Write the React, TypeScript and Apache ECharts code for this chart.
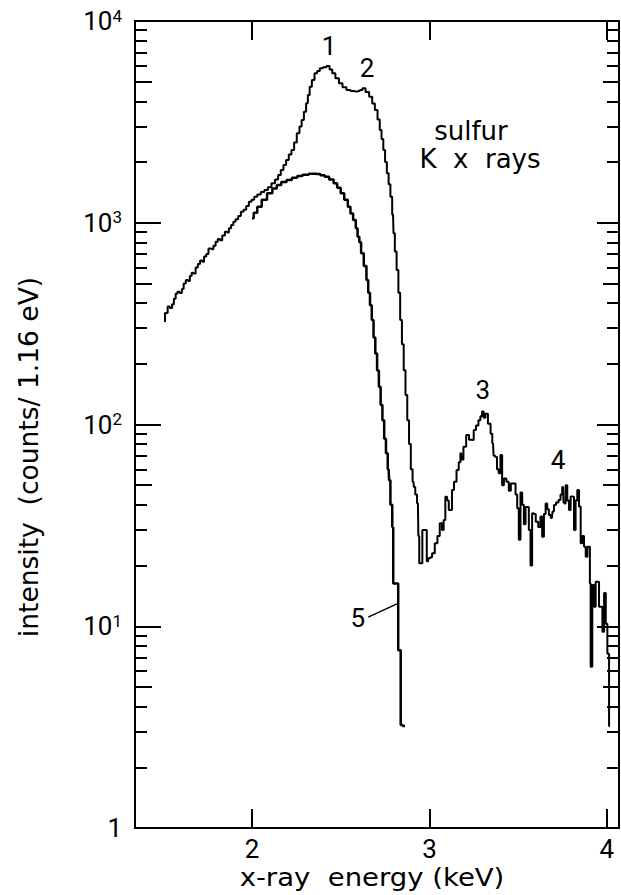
import React, { useEffect, useRef } from 'react';
import * as echarts from 'echarts';

// x-ray energy (keV) tick values
const xTickValues = [2, 3, 4];
// intensity tick values (log axis)
const yMajorTicks = [1, 10, 100, 1000, 10000];
const yMidTicks = [5, 50, 500, 5000];
const yMinorTicks = [2, 3, 4, 6, 7, 8, 9, 20, 30, 40, 60, 70, 80, 90, 200, 300, 400, 600, 700, 800, 900, 2000, 3000, 4000, 6000, 7000, 8000, 9000];

// measured sulfur K x-ray spectrum [keV, counts/1.16 eV]
const totalSpectrum: [number, number][] = [
  [1.51, 322], [1.51, 357], [1.52, 357], [1.53, 384], [1.545, 378], [1.555, 395], [1.565, 420], [1.575, 445],
  [1.585, 455], [1.6, 448], [1.61, 470], [1.62, 500], [1.635, 520], [1.645, 515], [1.655, 545], [1.665, 565],
  [1.675, 560], [1.69, 600], [1.7, 625], [1.715, 650], [1.725, 640], [1.735, 680], [1.75, 700], [1.76, 745],
  [1.775, 740], [1.79, 770], [1.8, 805], [1.815, 830], [1.825, 820], [1.84, 865], [1.855, 903], [1.865, 895],
  [1.875, 940], [1.89, 975], [1.9, 1012], [1.915, 1040], [1.93, 1080], [1.945, 1135], [1.96, 1160], [1.975, 1210],
  [1.99, 1271], [2.005, 1300], [2.02, 1345], [2.04, 1380], [2.06, 1420], [2.08, 1452], [2.1, 1500], [2.12, 1570],
  [2.14, 1640], [2.155, 1725], [2.17, 1824], [2.185, 1933], [2.2, 2047], [2.215, 2180], [2.23, 2294], [2.245, 2500],
  [2.26, 2775], [2.275, 3000], [2.285, 3229], [2.3, 3550], [2.31, 3908], [2.32, 4300], [2.33, 4725], [2.345, 5100],
  [2.36, 5504], [2.375, 5650], [2.39, 5830], [2.41, 5900], [2.43, 5985], [2.445, 5750], [2.46, 5504], [2.48, 5200],
  [2.5, 4911], [2.52, 4700], [2.545, 4548], [2.565, 4500], [2.585, 4467], [2.6, 4500], [2.615, 4550], [2.63, 4636],
  [2.65, 4450], [2.67, 4217], [2.685, 3900], [2.7, 3622], [2.715, 3250], [2.725, 2882], [2.735, 2600], [2.745, 2294],
  [2.755, 2000], [2.765, 1758], [2.775, 1550], [2.785, 1345], [2.795, 1100], [2.8, 887], [2.81, 720], [2.82, 583],
  [2.83, 450], [2.84, 330], [2.85, 250], [2.86, 186], [2.87, 140], [2.88, 105], [2.89, 80], [2.9, 60],
  [2.91, 52], [2.915, 49], [2.925, 45], [2.935, 40.7], [2.94, 28], [2.945, 20.5], [2.96, 20.5], [2.96, 30],
  [2.985, 30], [2.985, 21], [3.0, 21.7], [3.01, 22], [3.02, 23], [3.04, 25.8], [3.05, 28], [3.066, 32.4],
  [3.075, 30], [3.085, 33.6], [3.094, 43.9], [3.105, 42], [3.113, 37.7], [3.122, 37.7], [3.132, 47.3], [3.145, 52],
  [3.16, 59.5], [3.17, 65], [3.179, 72], [3.185, 67], [3.198, 77.6], [3.216, 88.7], [3.23, 84], [3.245, 83.7],
  [3.254, 94], [3.27, 99], [3.282, 105], [3.292, 110], [3.301, 116], [3.31, 108], [3.32, 113], [3.339, 101],
  [3.35, 90], [3.358, 80.7], [3.365, 70], [3.376, 69], [3.385, 60], [3.395, 57.3], [3.405, 70.6], [3.414, 50],
  [3.425, 54], [3.442, 52], [3.452, 47], [3.465, 51], [3.48, 51], [3.49, 45], [3.499, 38.5], [3.508, 26.8],
  [3.518, 46], [3.527, 40], [3.537, 32], [3.546, 39], [3.555, 39], [3.565, 30], [3.574, 20], [3.583, 36.3],
  [3.593, 36], [3.605, 33], [3.621, 31], [3.63, 35], [3.64, 27.8], [3.65, 36], [3.659, 40.6], [3.668, 38],
  [3.678, 35.6], [3.69, 34.4], [3.697, 37], [3.706, 39.9], [3.72, 41], [3.734, 42.2], [3.743, 45], [3.753, 49],
  [3.758, 41], [3.763, 40.6], [3.772, 50], [3.781, 42], [3.791, 37.7], [3.8, 44], [3.81, 43.9], [3.819, 30],
  [3.828, 42], [3.838, 47.3], [3.847, 39.2], [3.857, 25.8], [3.866, 28], [3.876, 24.8], [3.885, 22.1], [3.895, 24.8],
  [3.904, 24.8], [3.904, 16.3], [3.913, 6.3], [3.922, 16], [3.932, 12.5], [3.941, 16.6], [3.951, 16.6], [3.96, 12.5],
  [3.97, 12.5], [3.979, 9.4], [3.989, 14.6], [3.998, 10.3], [4.007, 7.3], [4.017, 3.2],
];

// spectrum labelled 5 [keV, counts/1.16 eV]
const componentSpectrum: [number, number][] = [
  [2.0, 1052], [2.02, 1120], [2.04, 1202], [2.07, 1300], [2.1, 1400], [2.13, 1480], [2.15, 1538], [2.18, 1590],
  [2.21, 1629], [2.24, 1670], [2.27, 1706], [2.3, 1730], [2.34, 1750], [2.37, 1745], [2.4, 1720], [2.42, 1692],
  [2.45, 1640], [2.47, 1570], [2.49, 1490], [2.51, 1400], [2.53, 1300], [2.55, 1202], [2.56, 1110], [2.58, 1032],
  [2.59, 940], [2.6, 853], [2.61, 800], [2.62, 706], [2.64, 610], [2.65, 520], [2.66, 450], [2.67, 390],
  [2.68, 330], [2.69, 270], [2.7, 225], [2.71, 185], [2.72, 154], [2.73, 125], [2.74, 105], [2.75, 85],
  [2.76, 72], [2.77, 60], [2.775, 53], [2.785, 40], [2.796, 31], [2.796, 16.3], [2.824, 16.3], [2.824, 7.6],
  [2.838, 7.6], [2.838, 3.24], [2.862, 3.2],
];

const peakLabels = [
  { name: '1', coord: [2.434, 7515] },
  { name: '2', coord: [2.648, 5850] },
  { name: '3', coord: [3.301, 148] },
  { name: '4', coord: [3.724, 66.7] },
];
const textLabels = [
  { name: 'sulfur', coord: [3.234, 2850] },
  { name: 'K  x  rays', coord: [3.285, 2070] },
];
const curve5Label = { name: '5', coord: [2.597, 11.0] };
const leaderLine = [[2.655, 11.1], [2.817, 12.9]];

const NUM_FONT = 'Roboto, "DejaVu Sans", sans-serif';
const WORD_FONT = '"DejaVu Sans", Roboto, sans-serif';

export default function App() {
  const ref = useRef<HTMLDivElement>(null);
  useEffect(() => {
    const chart = echarts.init(ref.current!, null, { renderer: 'svg' });
    const black = '#000';
    const xBase = {
      type: 'value',
      min: 1.341,
      max: 4.068,
      splitLine: { show: false },
      axisLine: { show: true, onZero: false, lineStyle: { color: black, width: 2 } },
    };
    const yBase = {
      type: 'log',
      logBase: 10,
      min: 1,
      max: 10000,
      splitLine: { show: false },
      axisLine: { show: true, onZero: false, lineStyle: { color: black, width: 2 } },
    };
    const tickStyle = { color: black, width: 2 };
    const mkY = (position: string, len: number, vals: number[], labels: boolean) => ({
      ...yBase,
      position,
      axisTick: { show: true, inside: true, length: len, customValues: vals, lineStyle: tickStyle },
      axisLabel: labels
        ? {
            show: true,
            customValues: yMajorTicks,
            margin: 13,
            formatter: (v: number) => {
              const e = Math.round(Math.log10(v));
              return e === 0 ? '{a|1}' : `{a|10}{b|${e}}`;
            },
            rich: {
              a: { fontSize: 26, fontFamily: NUM_FONT, color: black, lineHeight: 28 },
              b: { fontSize: 17, fontFamily: NUM_FONT, color: black, lineHeight: 18, verticalAlign: 'top' },
            },
          }
        : { show: false },
    });
    const markLabelStyle = (font: string) => ({
      show: true,
      position: 'inside',
      formatter: '{b}',
      color: black,
      fontSize: 26,
      fontFamily: font,
    });
    const option: any = {
      animation: false,
      backgroundColor: '#fff',
      grid: { left: 135, top: 21, width: 484, height: 807, containLabel: false, outerBoundsMode: 'none' },
      xAxis: [
        {
          ...xBase,
          position: 'bottom',
          axisTick: { show: true, inside: true, length: 19, customValues: xTickValues, lineStyle: tickStyle },
          axisLabel: { show: true, customValues: xTickValues, margin: 8, fontSize: 26, fontFamily: NUM_FONT, color: black },
        },
        {
          ...xBase,
          position: 'top',
          axisTick: { show: true, inside: true, length: 19, customValues: xTickValues, lineStyle: tickStyle },
          axisLabel: { show: false },
        },
      ],
      yAxis: [
        mkY('left', 26, yMajorTicks, true),
        mkY('left', 17, yMidTicks, false),
        mkY('left', 12, yMinorTicks, false),
        mkY('right', 22, yMajorTicks, false),
        mkY('right', 16, yMidTicks, false),
        mkY('right', 12, yMinorTicks, false),
      ],
      series: [
        {
          type: 'line',
          name: 'total',
          data: totalSpectrum,
          xAxisIndex: 0,
          yAxisIndex: 0,
          step: 'middle',
          showSymbol: false,
          lineStyle: { color: black, width: 2 },
          itemStyle: { color: black },
          markPoint: {
            symbol: 'rect',
            symbolSize: 1,
            itemStyle: { color: 'rgba(0,0,0,0)' },
            label: markLabelStyle(NUM_FONT),
            data: [
              ...peakLabels.map((p) => ({ name: p.name, coord: p.coord })),
              ...textLabels.map((p) => ({ name: p.name, coord: p.coord, label: markLabelStyle(WORD_FONT) })),
            ],
          },
        },
        {
          type: 'line',
          name: '5',
          data: componentSpectrum,
          xAxisIndex: 0,
          yAxisIndex: 0,
          step: 'middle',
          showSymbol: false,
          lineStyle: { color: black, width: 2.5 },
          itemStyle: { color: black },
          markPoint: {
            symbol: 'rect',
            symbolSize: 1,
            itemStyle: { color: 'rgba(0,0,0,0)' },
            label: markLabelStyle(NUM_FONT),
            data: [{ name: curve5Label.name, coord: curve5Label.coord }],
          },
          markLine: {
            silent: true,
            symbol: ['none', 'none'],
            label: { show: false },
            lineStyle: { color: black, width: 1.5, type: 'solid' },
            data: [[{ coord: leaderLine[0] }, { coord: leaderLine[1] }]],
          },
        },
      ],
      graphic: [
        {
          type: 'text',
          x: 29,
          y: 457,
          rotation: Math.PI / 2,
          scaleX: 1.02,
          style: {
            text: 'intensity  (counts/ 1.16 eV)',
            fontSize: 26,
            fontFamily: WORD_FONT,
            fill: black,
            align: 'center',
            verticalAlign: 'middle',
          },
        },
        {
          type: 'text',
          x: 372,
          y: 877,
          scaleX: 1.1,
          style: {
            text: 'x-ray  energy (keV)',
            fontSize: 25,
            fontFamily: WORD_FONT,
            fill: black,
            align: 'center',
            verticalAlign: 'middle',
          },
        },
      ],
    };
    chart.setOption(option);
    return () => chart.dispose();
  }, []);
  return (
    <div
      ref={ref}
      style={{ position: 'absolute', left: 0, top: 0, width: 621, height: 895, background: '#fff' }}
    />
  );
}
